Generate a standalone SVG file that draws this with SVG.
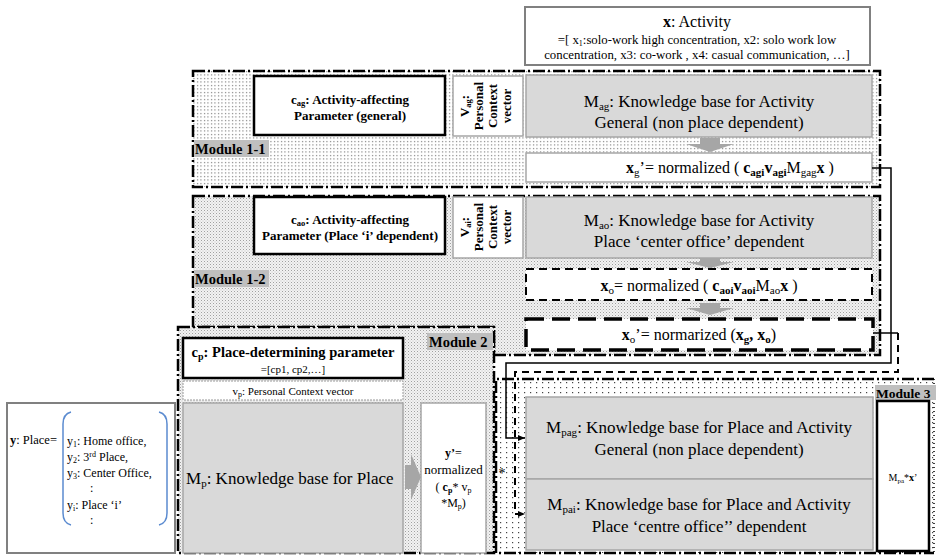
<svg xmlns="http://www.w3.org/2000/svg" width="937" height="555" viewBox="0 0 937 555">
<defs>
<pattern id="dots" width="3.5" height="3.5" patternUnits="userSpaceOnUse"><rect width="3.5" height="3.5" fill="#fff"/><rect x="1" y="1" width="1" height="1" fill="#444"/></pattern>
<pattern id="dots2" width="6" height="5" patternUnits="userSpaceOnUse"><rect width="6" height="5" fill="#fff"/><rect x="2" y="2" width="1.2" height="1.2" fill="#444"/></pattern>
<pattern id="stipple" width="3" height="3" patternUnits="userSpaceOnUse"><rect width="3" height="3" fill="#f2f2f2"/><rect x="0" y="0" width="1" height="1" fill="#a0a0a0"/><rect x="1.5" y="1.5" width="1" height="1" fill="#c4c4c4"/></pattern>
<marker id="ah" markerWidth="7" markerHeight="6" refX="7" refY="3" orient="auto" markerUnits="userSpaceOnUse"><path d="M0,0 L7,3 L0,6 z" fill="#000"/></marker>
</defs>
<style>
text { font-family: "Liberation Serif", "Times New Roman", serif; fill:#000; }
.b { font-weight: bold; }
.c { text-anchor: middle; }
.gray { fill:#d9d9d9; stroke:#a6a6a6; stroke-width:1.5; }
.wbox { fill:#fff; stroke:#a6a6a6; stroke-width:1.5; }
.thick { fill:#fff; stroke:#000; stroke-width:2.5; }
.mod { stroke:#000; stroke-width:2.5; stroke-dasharray:12 3 2 3; }
.mlab { fill:#bfbfbf; }
.garrow { fill:#a6a6a6; }
.conn { fill:none; stroke:#000; }
</style>

<g id="activity">
<rect x="525" y="7" width="345" height="58" fill="#fff" stroke="#808080" stroke-width="2"/>
<text x="697" y="27" class="c" font-size="16"><tspan class="b">x</tspan>: Activity</text>
<text x="697" y="44" class="c" font-size="12.8">=[ x<tspan font-size="8" dy="2">1</tspan><tspan dy="-2">:solo-work high concentration, x2: solo work low</tspan></text>
<text x="697" y="59" class="c" font-size="12.8">concentration, x3: co-work , x4: casual communication, …]</text>
</g>

<g id="module-1-1">
<rect x="193" y="71" width="687" height="116" fill="url(#dots)" class="mod"/>
<rect x="194" y="140" width="75" height="17" class="mlab"/>
<text x="195" y="154" class="b" font-size="14.5">Module 1-1</text>
</g>
<g id="c-ag">
<rect x="254" y="76" width="191" height="59" class="thick"/>
<text x="350" y="104" class="b c" font-size="13">c<tspan font-size="8.5" dy="2">ag</tspan><tspan dy="-2">: Activity-affecting</tspan></text>
<text x="350" y="120" class="b c" font-size="13">Parameter (general)</text>
</g>
<g id="v-ag">
<rect x="453" y="76" width="70" height="60" class="wbox"/>
<text transform="translate(469,106) rotate(-90)" class="b c" font-size="13">V<tspan font-size="8.5" dy="2">ag</tspan><tspan dy="-2">:</tspan></text>
<text transform="translate(483,106) rotate(-90)" class="b c" font-size="13">Personal</text>
<text transform="translate(497,106) rotate(-90)" class="b c" font-size="13">Context</text>
<text transform="translate(511,106) rotate(-90)" class="b c" font-size="13">vector</text>
</g>
<g id="m-ag">
<rect x="526" y="75" width="346" height="62" class="gray"/>
<text x="699" y="107" class="c" font-size="17">M<tspan font-size="11" dy="3">ag</tspan><tspan dy="-3">: Knowledge base for  Activity</tspan></text>
<text x="699" y="128" class="c" font-size="17">General (non place dependent)</text>
</g>
<polygon class="garrow" points="700,138 720,138 720,144 734,144 710,152 686,144 700,144"/>
<g id="x-g">
<rect x="526" y="153" width="346" height="29" class="wbox"/>
<text x="730" y="173" class="c" font-size="16"><tspan class="b">x</tspan><tspan font-size="11" dy="3">g</tspan><tspan dy="-3">’= normalized ( </tspan><tspan class="b">c</tspan><tspan class="b" font-size="11" dy="3">agi</tspan><tspan class="b" dy="-3">v</tspan><tspan class="b" font-size="11" dy="3">agi</tspan><tspan dy="-3">M</tspan><tspan font-size="11" dy="3">gag</tspan><tspan class="b" dy="-3">x</tspan><tspan> )</tspan></text>
</g>

<g id="module-1-2">
<polygon points="193,196 880,196 880,355 494,355 494,327 193,327" fill="url(#stipple)" class="mod"/>
<rect x="194" y="270" width="75" height="17" class="mlab"/>
<text x="195" y="284" class="b" font-size="14.5">Module 1-2</text>
</g>
<g id="c-ao">
<rect x="254" y="197" width="191" height="57" class="thick"/>
<text x="350" y="224" class="b c" font-size="13">c<tspan font-size="8.5" dy="2">ao</tspan><tspan dy="-2">: Activity-affecting</tspan></text>
<text x="350" y="240" class="b c" font-size="13">Parameter (Place ‘i’ dependent)</text>
</g>
<g id="v-ai">
<rect x="453" y="197" width="70" height="61" class="wbox"/>
<text transform="translate(469,227) rotate(-90)" class="b c" font-size="13">V<tspan font-size="8.5" dy="2">ai</tspan><tspan dy="-2">:</tspan></text>
<text transform="translate(483,227) rotate(-90)" class="b c" font-size="13">Personal</text>
<text transform="translate(497,227) rotate(-90)" class="b c" font-size="13">Context</text>
<text transform="translate(511,227) rotate(-90)" class="b c" font-size="13">vector</text>
</g>
<g id="m-ao">
<rect x="526" y="197" width="346" height="61" class="gray"/>
<text x="699" y="226" class="c" font-size="17">M<tspan font-size="11" dy="3">ao</tspan><tspan dy="-3">: Knowledge base for Activity</tspan></text>
<text x="699" y="247" class="c" font-size="17">Place ‘center office’ dependent</text>
</g>
<polygon class="garrow" points="700,258 720,258 720,262 734,262 710,268 686,262 700,262"/>
<g id="x-o">
<rect x="526" y="269" width="346" height="31" fill="#fff" stroke="#000" stroke-width="2" stroke-dasharray="8 5"/>
<text x="699" y="291" class="c" font-size="16"><tspan class="b">x</tspan><tspan font-size="11" dy="3">o</tspan><tspan dy="-3">= normalized ( </tspan><tspan class="b">c</tspan><tspan class="b" font-size="11" dy="3">aoi</tspan><tspan class="b" dy="-3">v</tspan><tspan class="b" font-size="11" dy="3">aoi</tspan><tspan dy="-3">M</tspan><tspan font-size="11" dy="3">ao</tspan><tspan class="b" dy="-3">x</tspan><tspan> )</tspan></text>
</g>
<polygon class="garrow" points="700,303 720,303 720,308 734,308 710,315 686,308 700,308"/>
<g id="x-o-prime">
<rect x="526" y="319" width="347" height="31" fill="#fff" stroke="#000" stroke-width="3.5" stroke-dasharray="18 8"/>
<text x="699" y="340" class="c" font-size="16"><tspan class="b">x</tspan><tspan font-size="11" dy="3">o</tspan><tspan dy="-3">’= normarized (</tspan><tspan class="b">x</tspan><tspan class="b" font-size="11" dy="3">g</tspan><tspan class="b" dy="-3">, x</tspan><tspan class="b" font-size="11" dy="3">o</tspan><tspan dy="-3">)</tspan></text>
</g>

<g id="module-2">
<rect x="178" y="327" width="316" height="226" fill="url(#stipple)" class="mod"/>
<rect x="427" y="333" width="66" height="17" class="mlab"/>
<text x="429" y="347" class="b" font-size="14.5">Module 2</text>
</g>
<g id="c-p">
<rect x="183" y="338" width="220" height="40" class="thick"/>
<text x="293" y="357" class="b c" font-size="14.5">c<tspan font-size="10" dy="3">p</tspan><tspan dy="-3">: Place-determining parameter</tspan></text>
<text x="293" y="373" class="c" font-size="11" fill="#333">=[cp1, cp2,…]</text>
</g>
<g id="v-p">
<rect x="183" y="381" width="220" height="19" fill="#fff" stroke="#999" stroke-width="1" stroke-dasharray="2 1"/>
<text x="293" y="395" class="c" font-size="11">v<tspan font-size="8" dy="2">p</tspan><tspan dy="-2">: Personal Context vector</tspan></text>
</g>
<g id="m-p">
<rect x="183" y="403" width="220" height="150" class="gray"/>
<text x="186" y="484" font-size="17">M<tspan font-size="11" dy="3">p</tspan><tspan dy="-3">: Knowledge base for Place</tspan></text>
</g>
<polygon class="garrow" points="405,465 411,465 411,454 421,477 411,500 411,489 405,489"/>
<g id="y-prime">
<rect x="421" y="403" width="65" height="150" class="wbox"/>
<text x="453.5" y="457" class="c b" font-size="12">y’<tspan font-weight="normal">=</tspan></text>
<text x="453.5" y="474" class="c" font-size="13">normalized</text>
<text x="453.5" y="491" class="c" font-size="12">( <tspan class="b">c</tspan><tspan class="b" font-size="8" dy="2">p</tspan><tspan dy="-2">* v</tspan><tspan font-size="8" dy="2">p</tspan></text>
<text x="453.5" y="507" class="c" font-size="12">*M<tspan font-size="8" dy="2">p</tspan><tspan dy="-2">)</tspan></text>
</g>

<g id="place">
<rect x="7" y="403" width="168" height="150" fill="#fff" stroke="#808080" stroke-width="2"/>
<text x="10" y="444" font-size="12.5"><tspan class="b">y</tspan>: Place=</text>
<path d="M71,412 Q63,414 63,424 L63,513 Q63,523 71,525" fill="none" stroke="#5b8bd0" stroke-width="1.5"/>
<path d="M159,412 Q167,414 167,424 L167,513 Q167,523 159,525" fill="none" stroke="#5b8bd0" stroke-width="1.5"/>
<text x="67" y="445" font-size="12">y<tspan font-size="8" dy="2">1</tspan><tspan dy="-2">: Home office,</tspan></text>
<text x="67" y="461" font-size="12">y<tspan font-size="8" dy="2">2</tspan><tspan dy="-2">: 3</tspan><tspan font-size="8" dy="-4">rd</tspan><tspan dy="4"> Place,</tspan></text>
<text x="67" y="477" font-size="12">y<tspan font-size="8" dy="2">3</tspan><tspan dy="-2">: Center Office,</tspan></text>
<text x="90" y="492" font-size="12">:</text>
<text x="67" y="509" font-size="12">y<tspan font-size="8" dy="2">i</tspan><tspan dy="-2">: Place ‘i’</tspan></text>
<text x="90" y="524" font-size="12">:</text>
</g>

<g id="module-3">
<rect x="496" y="379" width="438" height="174" fill="url(#dots2)"/>
<path d="M934,379 H496 V553 H934" fill="none" class="mod"/>
<path d="M934,379 V553" fill="none" stroke="#000" stroke-width="1.5" stroke-dasharray="1 3"/>
<rect x="875" y="385" width="61" height="15" class="mlab"/>
<text x="876" y="398" class="b" font-size="13.5">Module 3</text>
</g>
<g id="m-pag">
<rect x="526" y="397" width="347" height="82" class="gray"/>
<text x="699" y="433" class="c" font-size="17">M<tspan font-size="11" dy="3">pag</tspan><tspan dy="-3">: Knowledge base for Place and Activity</tspan></text>
<text x="699" y="455" class="c" font-size="17">General (non place dependent)</text>
</g>
<g id="m-pai">
<rect x="526" y="479" width="347" height="71" class="gray"/>
<text x="699" y="510" class="c" font-size="17">M<tspan font-size="11" dy="3">pai</tspan><tspan dy="-3">: Knowledge base for Place and Activity</tspan></text>
<text x="699" y="532" class="c" font-size="17">Place ‘centre office’’ dependent</text>
</g>
<g id="m-pa-x">
<rect x="877" y="401" width="52" height="150" class="thick"/>
<text x="903" y="481" class="c" font-size="10">M<tspan font-size="7" dy="2">pa</tspan><tspan dy="-2">*</tspan><tspan class="b">x</tspan>’</text>
</g>

<g id="connectors">
<path d="M872,168 H891 V363 H506 V438 H525" class="conn" stroke-width="1.5" marker-end="url(#ah)"/>
<path d="M873,333 H898" class="conn" stroke-width="1.5"/>
<path d="M898,333 V372 H515 V514 H525" class="conn" stroke-width="2" stroke-dasharray="7 5" marker-end="url(#ah)"/>
<text x="502" y="478" class="c" font-size="14">*</text>
</g>
</svg>
